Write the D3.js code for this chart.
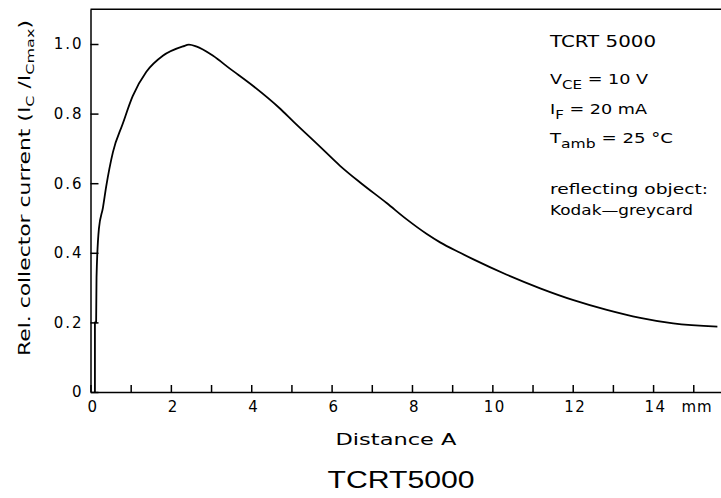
<!DOCTYPE html>
<html>
<head>
<meta charset="utf-8">
<script src="https://cdn.jsdelivr.net/npm/d3@7"></script>
<style>
  body { margin: 0; background: #fff; }
  svg { display: block; }
  text { font-family: "DejaVu Sans", sans-serif; fill: #000; }
</style>
</head>
<body>
<div class="chart"></div>
<script>
// curve (distance in mm, relative collector current)
const distance = [0.11, 0.11, 0.14, 0.15, 0.21, 0.31, 0.39, 0.56, 0.8, 1.05, 1.39, 1.8, 2.3, 2.45, 2.63, 3.05,
  3.46, 4.04, 4.7, 5.05, 5.71, 6.21, 6.71, 7.37, 7.87, 8.37, 8.7, 9.2, 9.53, 10.36, 11.19, 12.02,
  12.85, 13.68, 14.5, 15.6];
const relCurrent = [0, 0.2, 0.2, 0.33, 0.47, 0.53, 0.59, 0.69, 0.77, 0.85, 0.92, 0.966, 0.993, 0.998, 0.993, 0.966,
  0.93, 0.88, 0.816, 0.777, 0.705, 0.65, 0.602, 0.543, 0.496, 0.454, 0.43, 0.4, 0.381, 0.337, 0.298,
  0.264, 0.236, 0.213, 0.197, 0.188];

const xTickValues = d3.range(0, 16);
const xLabelValues = [0, 2, 4, 6, 8, 10, 12, 14];
const yTickValues = [0, 0.2, 0.4, 0.6, 0.8, 1.0];
const yTickLabels = ["0", "0.2", "0.4", "0.6", "0.8", "1.0"];

// legend rows: [main, subscript, rest]
const legendRows = [
  ["TCRT 5000", "", ""],
  ["V", "CE", " = 10 V"],
  ["I", "F", " = 20 mA"],
  ["T", "amb", " = 25 °C"],
  ["reflecting  object:", "", ""],
  ["Kodak\u2014greycard", "", ""]
];
const legendWidths = [106, 98, 97, 123, 158, 143];
const legendBaselines = [47, 84, 114, 143, 194, 215];

const width = 721, height = 498;

const svg = d3.select(".chart")
  .append("svg")
  .attr("width", width)
  .attr("height", height);

const x = d3.scaleLinear().domain([0, 15.69]).range([90.5, 721]);
const y = d3.scaleLinear().domain([0, 1.1]).range([392, 9.2]);

//x-axis, ticks pointing inward
const xAxis = d3.axisBottom(x)
  .tickValues(xTickValues)
  .tickSizeInner(-7)
  .tickSizeOuter(0)
  .tickPadding(9)
  .tickFormat(d => xLabelValues.includes(d) ? d : "");

const gx = svg.append("g")
  .attr("transform", "translate(0," + y(0) + ")")
  .call(xAxis);

gx.attr("font-size", 15).attr("font-family", "DejaVu Sans");
gx.selectAll("text").attr("letter-spacing", 1.5).attr("dx", 2);

//y-axis
const yAxis = d3.axisLeft(y)
  .tickValues(yTickValues)
  .tickSizeInner(-8)
  .tickSizeOuter(0)
  .tickPadding(7)
  .tickFormat((d, i) => yTickLabels[i]);

const gy = svg.append("g")
  .attr("transform", "translate(" + x(0) + ",0)")
  .call(yAxis);

gy.attr("font-size", 15).attr("font-family", "DejaVu Sans");
gy.selectAll("text").attr("letter-spacing", 2);

svg.selectAll(".domain, .tick line")
  .attr("stroke", "#000")
  .attr("stroke-width", 1.5);

// top frame line
svg.append("line")
  .attr("x1", x(0)).attr("x2", width)
  .attr("y1", y(1.1)).attr("y2", y(1.1))
  .attr("stroke", "#000").attr("stroke-width", 1.5);

// unit
svg.append("text")
  .attr("x", 697).attr("y", y(0) + 9)
  .attr("dy", "0.71em")
  .attr("text-anchor", "middle")
  .attr("font-size", 15)
  .attr("letter-spacing", 1)
  .text("mm");

// curve: straight rise off the axis, then a smooth curve
const pts = distance.map((d, i) => [d, relCurrent[i]]);

const lineStraight = d3.line()
  .x(d => x(d[0]))
  .y(d => y(d[1]));

const lineSmooth = d3.line()
  .x(d => x(d[0]))
  .y(d => y(d[1]))
  .curve(d3.curveMonotoneX);

svg.append("path")
  .attr("d", lineStraight(pts.slice(0, 3)) + lineSmooth(pts.slice(2)).replace(/^M/, "L"))
  .attr("fill", "none")
  .attr("stroke", "#000")
  .attr("stroke-width", 1.8)
  .attr("stroke-linejoin", "round");

// axis titles
svg.append("text")
  .attr("x", 396).attr("y", 445)
  .attr("text-anchor", "middle")
  .attr("font-size", 15)
  .attr("textLength", 121)
  .attr("lengthAdjust", "spacingAndGlyphs")
  .text("Distance  A");

const yTitle = svg.append("text")
  .attr("transform", "translate(30,188) rotate(-90)")
  .attr("text-anchor", "middle")
  .attr("font-size", 15)
  .attr("textLength", 336)
  .attr("lengthAdjust", "spacingAndGlyphs");
yTitle.append("tspan").text("Rel.  collector  current  (I");
yTitle.append("tspan").attr("font-size", 11).attr("dy", 4).text("C");
yTitle.append("tspan").attr("dy", -4).text(" /I");
yTitle.append("tspan").attr("font-size", 11).attr("dy", 4).text("Cmax");
yTitle.append("tspan").attr("dy", -4).text(")");

// legend block
legendRows.forEach((row, i) => {
  const t = svg.append("text")
    .attr("x", 550).attr("y", legendBaselines[i])
    .attr("font-size", 14)
    .attr("textLength", legendWidths[i])
    .attr("lengthAdjust", "spacingAndGlyphs");
  t.append("tspan").attr("font-size", i === 0 ? 16 : 14).text(row[0]);
  if (row[1]) {
    t.append("tspan").attr("font-size", 12).attr("dy", 5).text(row[1]);
    t.append("tspan").attr("dy", -5).text(row[2]);
  }
});

// caption below chart
svg.append("text")
  .attr("x", 401).attr("y", 488)
  .attr("text-anchor", "middle")
  .attr("font-size", 23)
  .attr("textLength", 147)
  .attr("lengthAdjust", "spacingAndGlyphs")
  .style("font-family", "'Liberation Sans', Arial, sans-serif")
  .text("TCRT5000");
</script>
</body>
</html>
